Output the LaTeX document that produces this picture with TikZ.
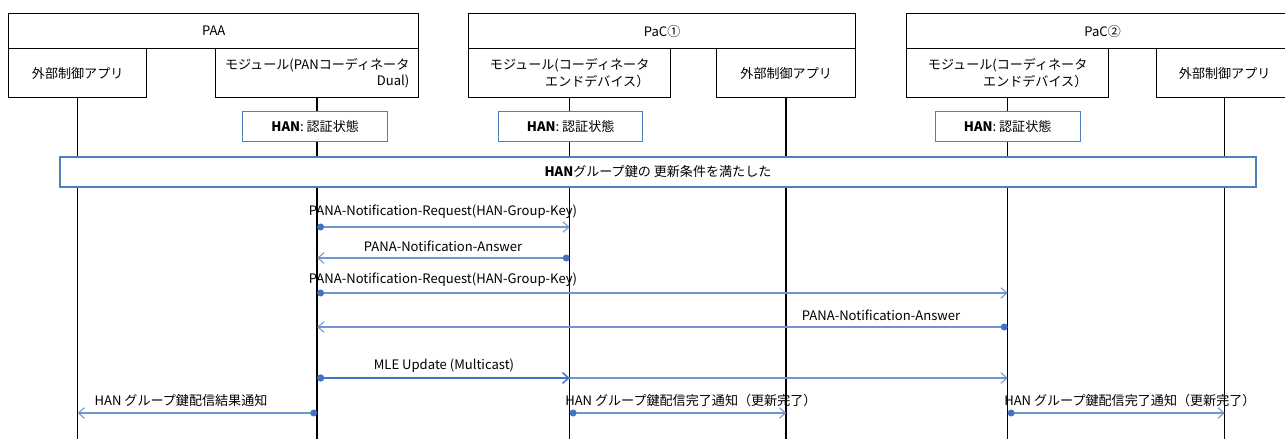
\documentclass[tikz,border=0pt]{standalone}
\usepackage{fontspec}
\setmainfont{Noto Sans CJK JP}
\usetikzlibrary{arrows.meta,calc}
\definecolor{lnblue}{RGB}{112,150,210}
\definecolor{dotblue}{RGB}{68,114,196}
\definecolor{boxblue}{RGB}{79,129,189}
\def\u{0.75pt}
\begin{document}
\begin{tikzpicture}[x=0.75pt,y=-0.75pt,
  font=\fontsize{9.8}{12.3}\selectfont,
  obj/.style={draw=black, line width=1pt, fill=white, inner sep=0pt, anchor=north west},
  state/.style={draw=boxblue, line width=1pt, fill=white, inner sep=0pt},
  life/.style={black, line width=1.1pt},
  msg/.style={lnblue, line width=0.8pt,
    arrows={Circle[length=5.2pt,width=5.2pt,color=dotblue,fill=dotblue]-Straight Barb[length=4.5pt,width=8pt]}},
  lbl/.style={inner sep=0pt}]
\useasboundingbox (0,0) rectangle (1285,439);
\clip (0,0) rectangle (1285,439);
% object boxes
\node[obj, minimum width=410*\u, minimum height=35*\u] (paa) at (8,13) {PAA};
\node[obj, minimum width=138*\u, minimum height=49*\u] (paaExt) at (8,48) {外部制御アプリ};
\node[obj, minimum width=203*\u, minimum height=49*\u, align=right] (paaMod) at (215,48) {モジュール(PANコーディネータ\\Dual)};
\node[obj, minimum width=387*\u, minimum height=35*\u] (pac1) at (468,13) {PaC①};
\node[obj, minimum width=202*\u, minimum height=49*\u, align=right] (pac1Mod) at (468,48) {モジュール(コーディネータ\\エンドデバイス）};
\node[obj, minimum width=139*\u, minimum height=49*\u] (pac1Ext) at (716,48) {外部制御アプリ};
\node[obj, minimum width=392*\u, minimum height=35*\u] (pac2) at (906,13) {PaC②};
\node[obj, minimum width=202*\u, minimum height=49*\u, align=right] (pac2Mod) at (906,48) {モジュール(コーディネータ\\エンドデバイス）};
\node[obj, minimum width=136*\u, minimum height=49*\u] (pac2Ext) at (1156,48) {外部制御アプリ};
% lifelines
\coordinate (bottom) at (0,445);
\foreach \n in {paaExt,paaMod,pac1Mod,pac1Ext,pac2Mod,pac2Ext}
  \draw[life] (\n.south) -- (\n.south |- bottom);
% state boxes
\node[state, minimum width=145*\u, minimum height=30*\u] (st1) at ($(paaMod.south)+(-2,28)$) {\textbf{HAN}: 認証状態};
\node[state, minimum width=144*\u, minimum height=30*\u] (st2) at ($(pac1Mod.south)+(1,28)$) {\textbf{HAN}: 認証状態};
\node[state, minimum width=145*\u, minimum height=30*\u] (st3) at ($(pac2Mod.south)+(0,28)$) {\textbf{HAN}: 認証状態};
\node[state, minimum width=1196*\u, minimum height=30*\u] (cond) at (658,172) {\textbf{HAN}グループ鍵の 更新条件を満たした};
% rows
\coordinate (r1) at (0,227);
\coordinate (r2) at (0,258);
\coordinate (r3) at (0,293);
\coordinate (r4) at (0,327);
\coordinate (r5) at (0,378);
\coordinate (r6) at (0,413);
% messages
\draw[msg] (paaMod.south |- r1) -- (pac1Mod.south |- r1);
\node[lbl] (l1) at (443,212) {PANA-Notification-Request(HAN-Group-Key)};
\draw[msg] (pac1Mod.south |- r2) -- (paaMod.south |- r2);
\node[lbl] (l2) at (443,246) {PANA-Notification-Answer};
\draw[msg] (paaMod.south |- r3) -- (pac2Mod.south |- r3);
\node[lbl] (l3) at (443,280) {PANA-Notification-Request(HAN-Group-Key)};
\draw[msg] (pac2Mod.south |- r4) -- (paaMod.south |- r4);
\node[lbl] (l4) at (881,315) {PANA-Notification-Answer};
\draw[msg] (paaMod.south |- r5) -- (pac2Mod.south |- r5);
\draw[msg, dotblue, line width=1.1pt] (paaMod.south |- r5) -- (pac1Mod.south |- r5);
\node[lbl] (l5) at (444,366) {MLE Update (Multicast)};
\draw[msg] (paaMod.south |- r6) -- (paaExt.south |- r6);
\node[lbl] (l6) at (181,401) {HAN グループ鍵配信結果通知};
\draw[msg] (pac1Mod.south |- r6) -- (pac1Ext.south |- r6);
\node[lbl, anchor=west] (l7) at (565,401) {HAN グループ鍵配信完了通知（更新完了）};
\draw[msg] (pac2Mod.south |- r6) -- (pac2Ext.south |- r6);
\node[lbl, anchor=west] (l8) at (1004,401) {HAN グループ鍵配信完了通知（更新完了）};
\end{tikzpicture}
\end{document}
